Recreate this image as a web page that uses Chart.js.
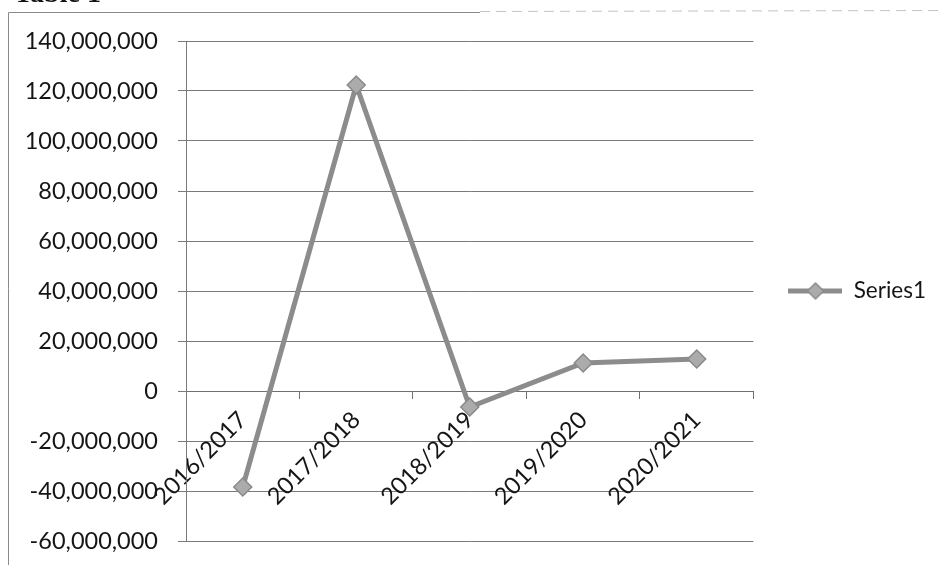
<!DOCTYPE html>
<html>
<head>
<meta charset="utf-8">
<script src="https://cdn.jsdelivr.net/npm/chart.js@4"></script>
<style>
  html, body { margin: 0; padding: 0; background: #fff; }
  #wrap { width: 941px; height: 565px; }
</style>
</head>
<body>
<div id="wrap"><canvas id="chart" width="941" height="565"></canvas></div>
<script>
// values
const years = ['2016/2017', '2017/2018', '2018/2019', '2019/2020', '2020/2021'];
const series1 = [-38400000, 122400000, -6400000, 11200000, 12800000];
const seriesName = 'Series1';

const lineGrey = '#8c8c8c';
const textCol = '#151515';

// legend marker: line with a diamond, Excel style
function makeMarker() {
  var c = document.createElement('canvas');
  c.width = 54; c.height = 20;
  var g = c.getContext('2d');
  g.strokeStyle = lineGrey;
  g.lineWidth = 5;
  g.beginPath(); g.moveTo(0, 10); g.lineTo(54, 10); g.stroke();
  g.fillStyle = '#ababab';
  g.strokeStyle = '#8a8a8a';
  g.lineWidth = 1.5;
  g.beginPath();
  g.moveTo(27, 2); g.lineTo(35, 10); g.lineTo(27, 18); g.lineTo(19, 10); g.closePath();
  g.fill(); g.stroke();
  return c;
}

// outer frame and the cut-off caption above it
const framePlugin = {
  id: 'frame',
  beforeDraw(chart) {
    var ctx = chart.ctx;
    ctx.save();
    ctx.fillStyle = '#fff';
    ctx.fillRect(0, 0, chart.width, chart.height);
    ctx.fillStyle = '#111';
    ctx.font = 'bold 28px "Liberation Serif", serif';
    ctx.textBaseline = 'alphabetic';
    ctx.fillText('Table 1', 14, 2);
    ctx.strokeStyle = '#8a8a8a';
    ctx.lineWidth = 1;
    ctx.beginPath();
    ctx.moveTo(8.5, 565); ctx.lineTo(8.5, 12.5); ctx.lineTo(480, 12.5);
    ctx.stroke();
    ctx.strokeStyle = '#c4c4c4';
    ctx.setLineDash([10, 6]);
    ctx.beginPath(); ctx.moveTo(480, 11.5); ctx.lineTo(941, 10.5); ctx.stroke();
    ctx.restore();
  }
};

var config = {
  type: 'line',
  data: {
    labels: years,
    datasets: [{
      label: seriesName,
      data: series1,
      borderColor: lineGrey,
      borderWidth: 5,
      backgroundColor: '#ababab',
      pointStyle: 'rectRot',
      pointRadius: 9,
      pointBorderColor: '#8a8a8a',
      pointBorderWidth: 1.5,
      pointBackgroundColor: '#ababab',
      tension: 0
    }]
  },
  options: {
    responsive: false,
    animation: false,
    layout: { padding: { left: 10, top: 41, bottom: 24, right: 5 } },
    plugins: {
      tooltip: { enabled: false },
      legend: {
        position: 'right',
        labels: {
          usePointStyle: true,
          pointStyle: makeMarker(),
          pointStyleWidth: 54,
          padding: 35,
          color: textCol,
          font: { family: 'Lato', size: 22.5 }
        }
      }
    },
    scales: {
      x: {
        position: { y: 0 },
        offset: true,
        grid: {
          offset: true,
          drawOnChartArea: false,
          color: '#6f6f6f',
          tickLength: 7
        },
        border: { color: '#6f6f6f', width: 1 },
        ticks: {
          minRotation: 45,
          maxRotation: 45,
          padding: 8,
          color: textCol,
          font: { family: 'Lato', size: 23.5 }
        },
        afterFit(scale) { scale.height = 0; }
      },
      y: {
        min: -60000000,
        max: 140000000,
        ticks: {
          stepSize: 20000000,
          padding: 20,
          color: textCol,
          font: { family: 'Lato', size: 23.5 },
          callback: v => v.toLocaleString('en-US')
        },
        grid: { color: '#7a7a7a', tickLength: 8 },
        border: { color: '#7a7a7a', width: 1 },
        afterFit(scale) {
          scale.width = 176;
          // tick padding should not push the plot away from the bottom
          scale.paddingTop = 14;
          scale.paddingBottom = 14;
        }
      }
    }
  },
  plugins: [framePlugin]
};

new Chart(document.getElementById('chart').getContext('2d'), config);
</script>
</body>
</html>
